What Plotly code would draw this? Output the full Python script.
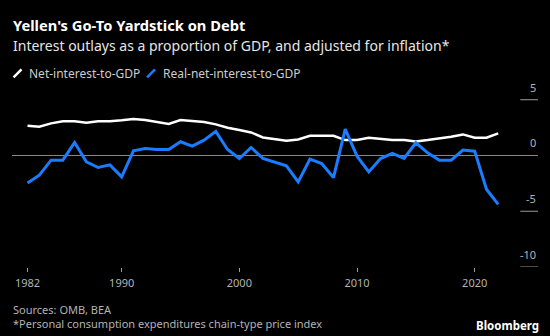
import plotly.graph_objects as go

years = list(range(1982, 2023))
net_interest = [2.67, 2.58, 2.88, 3.06, 3.06, 2.94, 3.06, 3.06, 3.15, 3.27,
                3.18, 2.97, 2.82, 3.18, 3.12, 3.00, 2.79, 2.49, 2.28, 2.07,
                1.62, 1.44, 1.32, 1.44, 1.77, 1.77, 1.77, 1.38, 1.38, 1.59,
                1.47, 1.38, 1.38, 1.26, 1.38, 1.50, 1.68, 1.89, 1.59, 1.59,
                1.98]
real_net_interest = [-2.46, -1.77, -0.42, -0.42, 1.17, -0.57, -1.08, -0.84, -1.92, 0.42,
                     0.63, 0.54, 0.54, 1.23, 0.84, 1.38, 2.16, 0.54, -0.27, 0.72,
                     -0.27, -0.60, -0.93, -2.37, -0.33, -0.72, -1.98, 2.37, -0.06, -1.47,
                     -0.27, 0.18, -0.27, 1.14, 0.24, -0.42, -0.42, 0.48, 0.39, -3.03,
                     -4.38]
x_ticks = [1982, 1990, 2000, 2010, 2020]
y_ticks = [5, 0, -5, -10]

W, H = 550, 336
ML, MR, MT, MB = 12, 12.3, 83.2, 69.3
PW, PH = W - ML - MR, H - MT - MB

def px(x):
    return (x - ML) / PW

def py(y):
    return (H - MB - y) / PH

BLUE = "#1a7cff"
WHITE = "#ffffff"
GREY = "#b3b3b3"
FONT = "Noto Sans"

fig = go.Figure()
fig.add_trace(go.Scatter(x=years, y=net_interest, mode="lines",
                         line=dict(color=WHITE, width=2.5), name="Net-interest-to-GDP"))
fig.add_trace(go.Scatter(x=years, y=real_net_interest, mode="lines",
                         line=dict(color=BLUE, width=3), name="Real-net-interest-to-GDP"))

shapes = []
annotations = []
# zero line
shapes.append(dict(type="line", xref="paper", yref="y", x0=0, x1=1, y0=0, y1=0,
                   line=dict(color="#8a8a8a", width=1), layer="below"))
# y tick segments and labels
for v in y_ticks:
    if v != 0:
        shapes.append(dict(type="line", xref="paper", yref="y", x0=px(520), x1=1, y0=v, y1=v,
                           line=dict(color="#9a9a9a", width=1)))
    annotations.append(dict(text=str(v), xref="paper", yref="y", x=1, y=v,
                            xanchor="right", yanchor="bottom", yshift=3, showarrow=False,
                            font=dict(family=FONT, size=11, color=GREY)))

# legend
for (x0, x1, col, label, tx) in [(13.5, 21.5, WHITE, "Net-interest-to-GDP", 27),
                                 (147, 155, BLUE, "Real-net-interest-to-GDP", 161)]:
    shapes.append(dict(type="line", xref="paper", yref="paper", x0=px(x0), x1=px(x1),
                       y0=py(77.5), y1=py(69.5), line=dict(color=col, width=2.5)))
    annotations.append(dict(text=label, xref="paper", yref="paper", x=px(tx), y=py(73.5),
                            xanchor="left", yanchor="middle", showarrow=False,
                            font=dict(family=FONT, size=12, color="#cccccc")))

# titles
annotations.append(dict(text="<b>Yellen's Go-To Yardstick on Debt</b>", xref="paper", yref="paper",
                        x=px(11), y=py(25.5), xanchor="left", yanchor="middle", showarrow=False,
                        font=dict(family=FONT, size=14.7, color=WHITE)))
annotations.append(dict(text="Interest outlays as a proportion of GDP, and adjusted for inflation*",
                        xref="paper", yref="paper", x=px(11), y=py(45.5), xanchor="left",
                        yanchor="middle", showarrow=False,
                        font=dict(family=FONT, size=14, color="#e6e6e6")))
# footer
annotations.append(dict(text="Sources: OMB, BEA", xref="paper", yref="paper",
                        x=px(11), y=py(309), xanchor="left", yanchor="middle", showarrow=False,
                        font=dict(family=FONT, size=11, color=GREY)))
annotations.append(dict(text="*Personal consumption expenditures chain-type price index",
                        xref="paper", yref="paper", x=px(11), y=py(323), xanchor="left",
                        yanchor="middle", showarrow=False,
                        font=dict(family=FONT, size=11, color=GREY)))
annotations.append(dict(text="<b>Bloomberg</b>", xref="paper", yref="paper",
                        x=px(541), y=py(325), xanchor="right", yanchor="middle", showarrow=False,
                        font=dict(family=FONT, size=11.5, color=WHITE)))

fig.update_layout(
    width=W, height=H,
    margin=dict(l=ML, r=MR, t=MT, b=MB, pad=0),
    paper_bgcolor="#000000", plot_bgcolor="#000000",
    showlegend=False,
    shapes=shapes, annotations=annotations,
    xaxis=dict(range=[1980.68, 2025.38], tickvals=x_ticks, ticktext=[str(t) for t in x_ticks],
               ticks="outside", ticklen=4, tickcolor="#9a9a9a", tickwidth=1,
               ticklabelstandoff=2,
               showgrid=False, zeroline=False, showline=False,
               tickfont=dict(family=FONT, size=11, color=GREY)),
    yaxis=dict(range=[-10, 6.5], showticklabels=False, showgrid=False, zeroline=False,
               showline=False, ticks=""),
)

fig.write_html("out.html")
